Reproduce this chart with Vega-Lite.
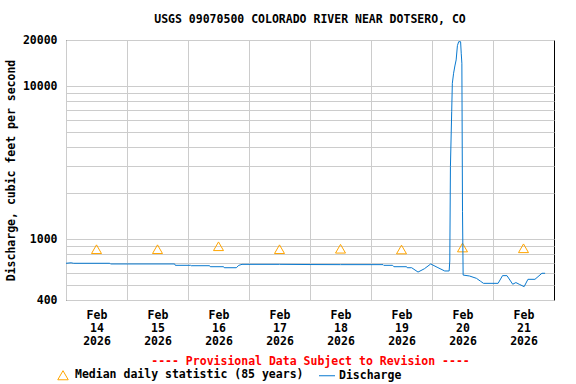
{
  "$schema": "https://vega.github.io/schema/vega-lite/v6.json",
  "autosize": {"type": "none"},
  "padding": {"left": 66, "top": 40, "right": 22, "bottom": 84},
  "width": 488,
  "height": 260,
  "title": {
    "text": "USGS 09070500 COLORADO RIVER NEAR DOTSERO, CO",
    "font": "DejaVu Sans Mono",
    "fontSize": 11.5,
    "fontWeight": "bold",
    "color": "black",
    "anchor": "middle",
    "frame": "group",
    "offset": 9
  },
  "config": {
    "view": {"stroke": "black", "strokeWidth": 1},
    "axis": {
      "labelFont": "DejaVu Sans Mono",
      "labelFontSize": 11.5,
      "labelFontWeight": "bold",
      "labelColor": "black",
      "titleFont": "DejaVu Sans Mono",
      "titleFontSize": 11.5,
      "titleFontWeight": "bold",
      "titleColor": "black",
      "gridColor": "#cccccc",
      "gridWidth": 1,
      "gridOpacity": 1,
      "domain": false,
      "ticks": false
    },
    "legend": {
      "orient": "none",
      "legendX": -9,
      "legendY": 329,
      "direction": "horizontal",
      "padding": 0,
      "labelFont": "DejaVu Sans Mono",
      "labelFontSize": 11.5,
      "labelFontWeight": "bold",
      "labelColor": "black",
      "labelLimit": 400,
      "labelOffset": 6,
      "columnPadding": 13,
      "symbolSize": 256,
      "symbolStrokeWidth": 1
    }
  },
  "datasets": {
    "discharge": [
      {"t": "2026-02-14T00:00:00Z", "q": 695, "series": "Discharge"},
      {"t": "2026-02-14T02:00:00Z", "q": 700, "series": "Discharge"},
      {"t": "2026-02-14T03:00:00Z", "q": 695, "series": "Discharge"},
      {"t": "2026-02-14T17:15:00Z", "q": 695, "series": "Discharge"},
      {"t": "2026-02-14T17:30:00Z", "q": 688, "series": "Discharge"},
      {"t": "2026-02-15T18:45:00Z", "q": 688, "series": "Discharge"},
      {"t": "2026-02-15T19:00:00Z", "q": 674, "series": "Discharge"},
      {"t": "2026-02-16T01:00:00Z", "q": 674, "series": "Discharge"},
      {"t": "2026-02-16T01:15:00Z", "q": 670, "series": "Discharge"},
      {"t": "2026-02-16T08:30:00Z", "q": 670, "series": "Discharge"},
      {"t": "2026-02-16T08:45:00Z", "q": 660, "series": "Discharge"},
      {"t": "2026-02-16T14:00:00Z", "q": 660, "series": "Discharge"},
      {"t": "2026-02-16T14:15:00Z", "q": 650, "series": "Discharge"},
      {"t": "2026-02-16T19:00:00Z", "q": 650, "series": "Discharge"},
      {"t": "2026-02-16T20:00:00Z", "q": 674, "series": "Discharge"},
      {"t": "2026-02-16T21:15:00Z", "q": 684, "series": "Discharge"},
      {"t": "2026-02-17T12:00:00Z", "q": 684, "series": "Discharge"},
      {"t": "2026-02-18T00:00:00Z", "q": 682, "series": "Discharge"},
      {"t": "2026-02-18T12:00:00Z", "q": 681, "series": "Discharge"},
      {"t": "2026-02-19T04:45:00Z", "q": 681, "series": "Discharge"},
      {"t": "2026-02-19T05:00:00Z", "q": 674, "series": "Discharge"},
      {"t": "2026-02-19T08:30:00Z", "q": 674, "series": "Discharge"},
      {"t": "2026-02-19T09:00:00Z", "q": 660, "series": "Discharge"},
      {"t": "2026-02-19T14:00:00Z", "q": 660, "series": "Discharge"},
      {"t": "2026-02-19T14:15:00Z", "q": 650, "series": "Discharge"},
      {"t": "2026-02-19T16:00:00Z", "q": 650, "series": "Discharge"},
      {"t": "2026-02-19T18:30:00Z", "q": 609, "series": "Discharge"},
      {"t": "2026-02-19T21:00:00Z", "q": 640, "series": "Discharge"},
      {"t": "2026-02-19T23:30:00Z", "q": 688, "series": "Discharge"},
      {"t": "2026-02-20T02:00:00Z", "q": 655, "series": "Discharge"},
      {"t": "2026-02-20T05:00:00Z", "q": 619, "series": "Discharge"},
      {"t": "2026-02-20T06:45:00Z", "q": 619, "series": "Discharge"},
      {"t": "2026-02-20T07:00:00Z", "q": 719, "series": "Discharge"},
      {"t": "2026-02-20T07:15:00Z", "q": 2973, "series": "Discharge"},
      {"t": "2026-02-20T07:45:00Z", "q": 6805, "series": "Discharge"},
      {"t": "2026-02-20T08:00:00Z", "q": 10430, "series": "Discharge"},
      {"t": "2026-02-20T08:30:00Z", "q": 12130, "series": "Discharge"},
      {"t": "2026-02-20T09:00:00Z", "q": 13530, "series": "Discharge"},
      {"t": "2026-02-20T09:30:00Z", "q": 14820, "series": "Discharge"},
      {"t": "2026-02-20T10:00:00Z", "q": 18370, "series": "Discharge"},
      {"t": "2026-02-20T10:30:00Z", "q": 19500, "series": "Discharge"},
      {"t": "2026-02-20T11:15:00Z", "q": 19500, "series": "Discharge"},
      {"t": "2026-02-20T11:30:00Z", "q": 16390, "series": "Discharge"},
      {"t": "2026-02-20T11:45:00Z", "q": 14100, "series": "Discharge"},
      {"t": "2026-02-20T12:00:00Z", "q": 1510, "series": "Discharge"},
      {"t": "2026-02-20T12:15:00Z", "q": 582, "series": "Discharge"},
      {"t": "2026-02-20T14:45:00Z", "q": 574, "series": "Discharge"},
      {"t": "2026-02-20T17:30:00Z", "q": 554, "series": "Discharge"},
      {"t": "2026-02-20T19:00:00Z", "q": 532, "series": "Discharge"},
      {"t": "2026-02-20T20:15:00Z", "q": 514, "series": "Discharge"},
      {"t": "2026-02-21T02:00:00Z", "q": 514, "series": "Discharge"},
      {"t": "2026-02-21T03:45:00Z", "q": 577, "series": "Discharge"},
      {"t": "2026-02-21T05:30:00Z", "q": 577, "series": "Discharge"},
      {"t": "2026-02-21T07:45:00Z", "q": 507, "series": "Discharge"},
      {"t": "2026-02-21T09:00:00Z", "q": 520, "series": "Discharge"},
      {"t": "2026-02-21T10:30:00Z", "q": 505, "series": "Discharge"},
      {"t": "2026-02-21T12:15:00Z", "q": 489, "series": "Discharge"},
      {"t": "2026-02-21T13:45:00Z", "q": 546, "series": "Discharge"},
      {"t": "2026-02-21T16:30:00Z", "q": 546, "series": "Discharge"},
      {"t": "2026-02-21T19:15:00Z", "q": 598, "series": "Discharge"},
      {"t": "2026-02-21T20:30:00Z", "q": 598, "series": "Discharge"}
    ],
    "median": [
      {"t": "2026-02-14T12:00:00Z", "q": 859, "series": "Median daily statistic (85 years)"},
      {"t": "2026-02-15T12:00:00Z", "q": 859, "series": "Median daily statistic (85 years)"},
      {"t": "2026-02-16T12:00:00Z", "q": 898, "series": "Median daily statistic (85 years)"},
      {"t": "2026-02-17T12:00:00Z", "q": 859, "series": "Median daily statistic (85 years)"},
      {"t": "2026-02-18T12:00:00Z", "q": 865, "series": "Median daily statistic (85 years)"},
      {"t": "2026-02-19T12:00:00Z", "q": 855, "series": "Median daily statistic (85 years)"},
      {"t": "2026-02-20T12:00:00Z", "q": 881, "series": "Median daily statistic (85 years)"},
      {"t": "2026-02-21T12:00:00Z", "q": 871, "series": "Median daily statistic (85 years)"}
    ]
  },
  "encoding": {
    "x": {
      "field": "t",
      "type": "temporal",
      "scale": {
        "type": "utc",
        "domain": [
          {"year": 2026, "month": 2, "date": 14, "utc": true},
          {"year": 2026, "month": 2, "date": 22, "utc": true}
        ],
        "nice": false
      },
      "axis": {
        "title": "---- Provisional Data Subject to Revision ----",
        "titleColor": "#ff0000",
        "titlePadding": 9,
        "values": [
          {"year": 2026, "month": 2, "date": 14, "utc": true},
          {"year": 2026, "month": 2, "date": 15, "utc": true},
          {"year": 2026, "month": 2, "date": 16, "utc": true},
          {"year": 2026, "month": 2, "date": 17, "utc": true},
          {"year": 2026, "month": 2, "date": 18, "utc": true},
          {"year": 2026, "month": 2, "date": 19, "utc": true},
          {"year": 2026, "month": 2, "date": 20, "utc": true},
          {"year": 2026, "month": 2, "date": 21, "utc": true}
        ],
        "labelExpr": "[utcFormat(datum.value, '%b'), utcFormat(datum.value, '%d'), utcFormat(datum.value, '%Y')]",
        "labelOffset": 30.5,
        "labelPadding": 9,
        "labelLineHeight": 13,
        "labelBaseline": "top",
        "labelOverlap": false,
        "labelBound": false,
        "labelFlush": false,
        "grid": true
      }
    },
    "y": {
      "field": "q",
      "type": "quantitative",
      "scale": {"type": "log", "domain": [400, 20000], "nice": false, "zero": false},
      "axis": {
        "title": "Discharge, cubic feet per second",
        "titlePadding": 6,
        "values": [400, 500, 600, 700, 800, 900, 1000, 2000, 3000, 4000, 5000, 6000, 7000, 8000, 9000, 10000, 20000],
        "labelExpr": "indexof([400, 1000, 10000, 20000], datum.value) >= 0 ? format(datum.value, 'd') : ''",
        "labelPadding": 9,
        "labelOverlap": false,
        "labelBound": false,
        "labelFlush": false,
        "grid": true
      }
    },
    "color": {
      "field": "series",
      "type": "nominal",
      "scale": {
        "domain": ["Median daily statistic (85 years)", "Discharge"],
        "range": ["#ffa500", "#0979cf"]
      },
      "legend": {
        "title": null,
        "encode": {
          "symbols": {
            "update": {
              "shape": {"signal": "datum.value === 'Discharge' ? 'stroke' : 'triangle-up'"},
              "size": {"signal": "datum.value === 'Discharge' ? 256 : 110"},
              "fill": {"value": "transparent"},
              "strokeWidth": {"value": 1},
              "opacity": {"value": 1}
            }
          }
        }
      }
    }
  },
  "layer": [
    {
      "data": {"name": "median"},
      "mark": {"type": "point", "shape": "triangle-up", "filled": false, "size": 100, "strokeWidth": 1, "opacity": 1}
    },
    {
      "data": {"name": "discharge"},
      "mark": {"type": "line", "strokeWidth": 1, "interpolate": "linear"}
    }
  ]
}
